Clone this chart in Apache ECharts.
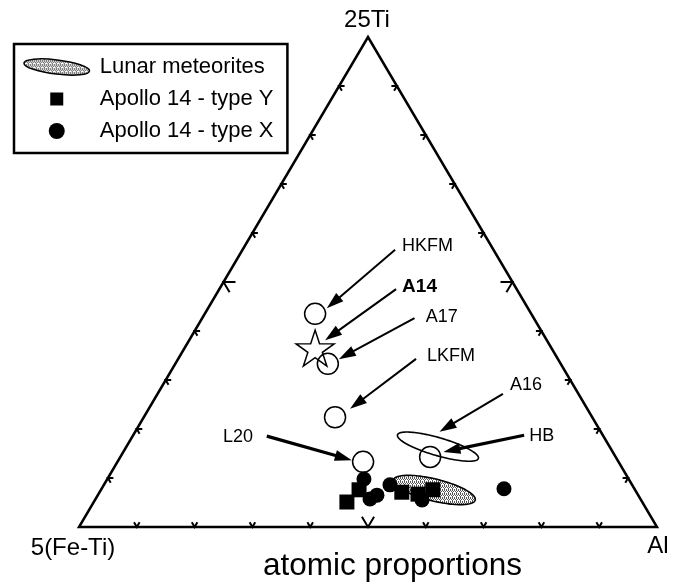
<!DOCTYPE html>
<html>
<head>
<meta charset="utf-8">
<script src="https://cdn.jsdelivr.net/npm/echarts@6/dist/echarts.min.js"></script>
<style>
  html, body { margin: 0; padding: 0; background: #fff; }
  #chart { width: 679px; height: 582px; }
</style>
</head>
<body>
<div id="chart"></div>
<script>
// Atomic proportions in percent, apexes: 25Ti (top), 5(Fe-Ti) (left), Al (right).
const refNames = ['HKFM', 'A14', 'A17', 'LKFM', 'L20', 'HB'];
const refTi = [43.5, 36.5, 33.3, 22.4, 13.3, 14.3];
const refFe = [37.4, 40.9, 40.3, 44.5, 44.2, 32.1];
const refAl = [19.1, 22.6, 26.4, 33.1, 42.5, 53.6];

// Apollo 14 breccia clasts, type Y
const typeYTi = [5.1, 7.6, 7.1, 6.7, 7.6];
const typeYFe = [51.1, 47.8, 40.6, 38.0, 35.0];
const typeYAl = [43.8, 44.7, 52.3, 55.3, 57.4];

// Apollo 14 breccia clasts, type X
const typeXTi = [9.8, 5.7, 6.5, 8.6, 5.5, 7.8];
const typeXFe = [45.8, 46.8, 45.2, 41.9, 37.9, 22.6];
const typeXAl = [44.4, 47.5, 48.3, 49.5, 56.6, 69.7];

// Compositional fields: the two ends of each field's long axis.
const fieldNames = ['A16', 'Lunar meteorites'];
const fieldStartTi = [18.8, 9.6];
const fieldStartFe = [35.5, 40.8];
const fieldStartAl = [45.7, 49.6];
const fieldEndTi = [14.0, 5.5];
const fieldEndFe = [23.9, 28.7];
const fieldEndAl = [62.1, 65.8];

// Tick marks along every edge, percent.
const tickSteps = [10, 20, 30, 40, 50, 60, 70, 80, 90];
const vertexNames = ['5(Fe-Ti)', 'Al', '25Ti'];
const axisTitle = 'atomic proportions';

const H = Math.sqrt(3) / 2;
// ternary -> cartesian (left apex at origin, right apex at x = 1)
function toXY(ti, fe, al) {
  const s = ti + fe + al;
  const t = ti / s, a = al / s;
  return [a + t / 2, t * H];
}

const FONT = '"Liberation Sans", Arial, sans-serif';

// stippled fill used for the lunar meteorite field
function makeStipple() {
  const c = document.createElement('canvas');
  c.width = 4; c.height = 4;
  const g = c.getContext('2d');
  g.fillStyle = '#ffffff';
  g.fillRect(0, 0, 4, 4);
  g.fillStyle = '#555555';
  g.fillRect(0, 0, 1, 3);
  g.fillRect(2, 1, 1, 2);
  g.fillRect(3, 3, 1, 1);
  g.fillRect(1, 3, 1, 1);
  return { image: c, repeat: 'repeat' };
}
const stipple = makeStipple();

const fieldStyle = {
  'A16': { halfWidth: 9, fill: 'rgba(0,0,0,0)', lineWidth: 1.6 },
  'Lunar meteorites': { halfWidth: 11, fill: stipple, lineWidth: 1.6 }
};

// callout layout relative to the labelled point, in pixels
const calloutLayout = {
  'HKFM': { tip: [11.7, -5.7], tail: [80, -64], text: [87, -68], align: 'left' },
  'A14':  { tip: [10, -8], tail: [81, -59], text: [87, -61], align: 'left', bold: true },
  'A17':  { tip: [11, -4.7], tail: [86.7, -45.7], text: [98, -47], align: 'left' },
  'LKFM': { tip: [15, -8.4], tail: [81, -58.4], text: [92, -61], align: 'left' },
  'L20':  { tip: [-11.3, -1.7], tail: [-96.3, -25.7], text: [-110, -25], align: 'right', thick: true },
  'HB':   { tip: [13.3, -5], tail: [94, -21.7], text: [99, -21], align: 'left', thick: true },
  'A16':  { tip: [1.6, -15], tail: [65, -52.7], text: [72, -62], align: 'left' }
};

const vertexLayout = [
  { dx: -6, dy: 21 },
  { dx: 1, dy: 19 },
  { dx: -1, dy: -17 }
];

const STAR = 'path://M50,0 L61.2,34.5 L97.6,34.5 L68.2,55.9 L79.4,90.5 L50,69.1 L20.6,90.5 L31.8,55.9 L2.4,34.5 L38.8,34.5 Z';
const SQUARE_ICON = 'path://M-0.115,-0.115 M1.115,1.115 M0,0 L1,0 L1,1 L0,1 Z';
const ELLIPSE_ICON = 'path://M-32.75,-4.02 A33,7 7 1 1 32.75,4.02 A33,7 7 1 1 -32.75,-4.02 Z';

const refData = refNames.map((n, i) => ({
  name: n,
  value: toXY(refTi[i], refFe[i], refAl[i]),
  symbol: n === 'A14' ? STAR : 'circle',
  symbolSize: n === 'A14' ? [38, 36] : 21
}));
const typeYData = typeYTi.map((t, i) => toXY(t, typeYFe[i], typeYAl[i]));
const typeXData = typeXTi.map((t, i) => toXY(t, typeXFe[i], typeXAl[i]));
const fieldData = fieldNames.map((n, i) => {
  const p = toXY(fieldStartTi[i], fieldStartFe[i], fieldStartAl[i]);
  const q = toXY(fieldEndTi[i], fieldEndFe[i], fieldEndAl[i]);
  return { name: n, value: [p[0], p[1], q[0], q[1], i] };
});

// callouts point at reference compositions and at the A16 field centre
const calloutNames = refNames.concat(['A16']);
const calloutData = refData.map(d => d.value).concat([[
  (fieldData[0].value[0] + fieldData[0].value[2]) / 2,
  (fieldData[0].value[1] + fieldData[0].value[3]) / 2
]]);

function unit(a, b) {
  const dx = b[0] - a[0], dy = b[1] - a[1];
  const l = Math.hypot(dx, dy);
  return [dx / l, dy / l];
}

function renderFrame(params, api) {
  const L = api.coord([0, 0]), R = api.coord([1, 0]), T = api.coord([0.5, H]);
  return {
    type: 'polygon',
    shape: { points: [L, R, T] },
    style: { fill: 'none', stroke: '#000', lineWidth: 2.5, lineJoin: 'miter', miterLimit: 10 },
    silent: true
  };
}

function renderTicks(params, api) {
  const k = api.value(0) / 100;
  const L = api.coord([0, 0]), R = api.coord([1, 0]), T = api.coord([0.5, H]);
  const len = Math.abs(k - 0.5) < 1e-6 ? 12 : 5.5;
  const edges = [
    { p: [L[0] + (R[0] - L[0]) * k, L[1] + (R[1] - L[1]) * k], d1: unit(L, T), d2: unit(R, T) },
    { p: [L[0] + (T[0] - L[0]) * k, L[1] + (T[1] - L[1]) * k], d1: unit(L, R), d2: unit(T, R) },
    { p: [R[0] + (T[0] - R[0]) * k, R[1] + (T[1] - R[1]) * k], d1: unit(R, L), d2: unit(T, L) }
  ];
  return {
    type: 'group',
    silent: true,
    children: edges.map(e => ({
      type: 'polyline',
      shape: { points: [
        [e.p[0] + e.d1[0] * len, e.p[1] + e.d1[1] * len],
        e.p,
        [e.p[0] + e.d2[0] * len, e.p[1] + e.d2[1] * len]
      ] },
      style: { stroke: '#000', lineWidth: 2, fill: 'none' }
    }))
  };
}

function renderField(params, api) {
  const p1 = api.coord([api.value(0), api.value(1)]);
  const p2 = api.coord([api.value(2), api.value(3)]);
  const st = fieldStyle[fieldNames[api.value(4)]];
  const cx = (p1[0] + p2[0]) / 2, cy = (p1[1] + p2[1]) / 2;
  const a = Math.hypot(p2[0] - p1[0], p2[1] - p1[1]) / 2;
  const ang = Math.atan2(p2[1] - p1[1], p2[0] - p1[0]);
  const b = st.halfWidth;
  const pts = [];
  for (let i = 0; i < 120; i++) {
    const th = i / 120 * Math.PI * 2;
    const ex = a * Math.cos(th), ey = b * Math.sin(th);
    pts.push([cx + ex * Math.cos(ang) - ey * Math.sin(ang), cy + ex * Math.sin(ang) + ey * Math.cos(ang)]);
  }
  return {
    type: 'polygon',
    shape: { points: pts },
    style: { fill: st.fill, stroke: '#000', lineWidth: st.lineWidth },
    silent: true
  };
}

function renderCallout(params, api) {
  const name = calloutNames[params.dataIndex];
  const lay = calloutLayout[name];
  const c = api.coord([api.value(0), api.value(1)]);
  const tip = [c[0] + lay.tip[0], c[1] + lay.tip[1]];
  const tail = [c[0] + lay.tail[0], c[1] + lay.tail[1]];
  const u = unit(tail, tip);
  const hl = 17, hw = 5.5;
  const base = [tip[0] - u[0] * hl, tip[1] - u[1] * hl];
  return {
    type: 'group',
    silent: true,
    children: [
      {
        type: 'line',
        shape: { x1: tail[0], y1: tail[1], x2: base[0] + u[0] * 2, y2: base[1] + u[1] * 2 },
        style: { stroke: '#000', lineWidth: lay.thick ? 3.2 : 2 }
      },
      {
        type: 'polygon',
        shape: { points: [tip, [base[0] - u[1] * hw, base[1] + u[0] * hw], [base[0] + u[1] * hw, base[1] - u[0] * hw]] },
        style: { fill: '#000' }
      },
      {
        type: 'text',
        x: c[0] + lay.text[0],
        y: c[1] + lay.text[1],
        style: {
          text: name,
          align: lay.align,
          verticalAlign: 'middle',
          font: (lay.bold ? 'bold 19px ' : '18px ') + FONT,
          fill: '#000'
        }
      }
    ]
  };
}

function renderVertex(params, api) {
  const c = api.coord([api.value(0), api.value(1)]);
  const lay = vertexLayout[params.dataIndex];
  return {
    type: 'text',
    x: c[0] + lay.dx,
    y: c[1] + lay.dy,
    silent: true,
    style: {
      text: vertexNames[params.dataIndex],
      align: 'center',
      verticalAlign: 'middle',
      font: '24px ' + FONT,
      fill: '#000'
    }
  };
}

const chart = echarts.init(document.getElementById('chart'), null, { renderer: 'canvas' });

chart.setOption({
  animation: false,
  backgroundColor: '#fff',
  grid: { left: 79, right: 22, top: 37, bottom: 55 },
  xAxis: { type: 'value', min: 0, max: 1, show: false },
  yAxis: { type: 'value', min: 0, max: H, show: false },
  legend: {
    orient: 'vertical',
    left: 14,
    top: 44,
    padding: [12, 14, 11, 9],
    itemGap: 10,
    itemWidth: 66,
    itemHeight: 16,
    borderColor: '#000',
    borderWidth: 2.5,
    borderRadius: 0,
    selectedMode: false,
    textStyle: { fontFamily: FONT, fontSize: 22, color: '#000', lineHeight: 22, padding: [0, 0, 0, 5] },
    data: [
      { name: 'Lunar meteorites', icon: ELLIPSE_ICON, itemStyle: { color: stipple, borderColor: '#000', borderWidth: 1.5, opacity: 1 } },
      { name: 'Apollo 14 - type Y', icon: SQUARE_ICON, itemStyle: { color: '#000', opacity: 1 } },
      { name: 'Apollo 14 - type X', icon: 'circle', itemStyle: { color: '#000', opacity: 1 } }
    ]
  },
  graphic: [{
    type: 'text',
    left: 263,
    top: 550,
    style: { text: axisTitle, font: '31.5px ' + FONT, fill: '#000' }
  }],
  series: [
    {
      type: 'custom', name: 'frame', renderItem: renderFrame, data: [[0.5, 0.5]], z: 1
    },
    {
      type: 'custom', name: 'ticks', renderItem: renderTicks, data: tickSteps.map(t => [t, 0]), z: 1
    },
    {
      type: 'custom', name: 'A16 field', renderItem: renderField,
      data: [fieldData[0]], z: 2
    },
    {
      type: 'custom', name: 'Lunar meteorites', renderItem: renderField,
      itemStyle: { color: '#999' },
      data: [fieldData[1]], z: 2
    },
    {
      type: 'scatter', name: 'reference', data: refData, z: 3, silent: true,
      itemStyle: { color: 'rgba(0,0,0,0)', borderColor: '#000', borderWidth: 1.5, opacity: 1 }
    },
    {
      type: 'scatter', name: 'Apollo 14 - type Y', symbol: 'rect', symbolSize: 15,
      data: typeYData, z: 4, silent: true, itemStyle: { color: '#000', opacity: 1 }
    },
    {
      type: 'scatter', name: 'Apollo 14 - type X', symbol: 'circle', symbolSize: 15,
      data: typeXData, z: 4, silent: true, itemStyle: { color: '#000', opacity: 1 }
    },
    {
      type: 'custom', name: 'callouts', renderItem: renderCallout, data: calloutData, z: 5
    },
    {
      type: 'custom', name: 'vertices', renderItem: renderVertex, data: [[0, 0], [1, 0], [0.5, H]], z: 5
    }
  ]
});
</script>
</body>
</html>
